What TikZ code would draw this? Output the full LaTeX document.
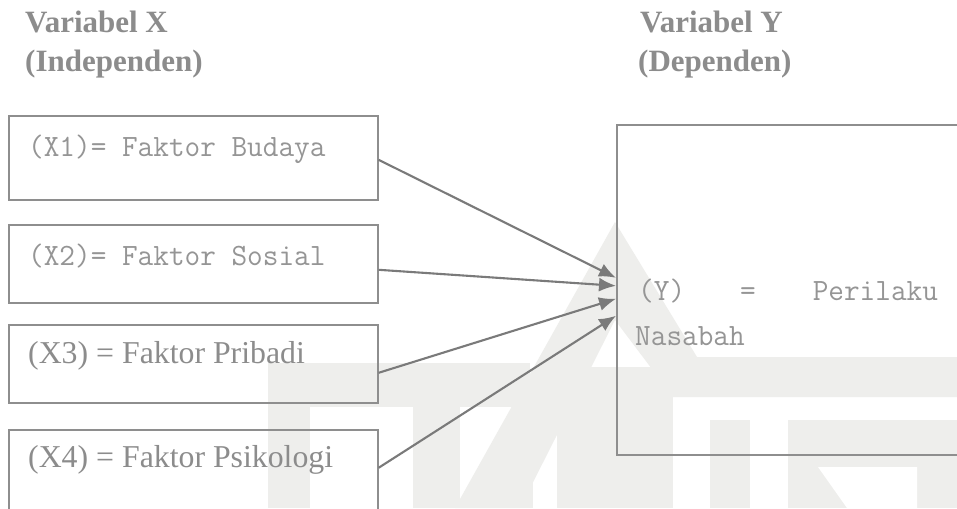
\documentclass[tikz,border=0pt]{standalone}
\usepackage{fontspec}
\setmainfont{Liberation Serif}
\newfontfamily\monofont[FakeStretch=0.98]{Latin Modern Mono}
\usetikzlibrary{arrows.meta}
\definecolor{linegray}{HTML}{8E8E8E}
\definecolor{arrgray}{HTML}{7A7A7A}
\definecolor{txtgray}{HTML}{8C8C8C}
\definecolor{montgray}{HTML}{959595}
\definecolor{wmgray}{HTML}{EEEEEC}
\tikzset{
  varbox/.style={draw=linegray,line width=1.6pt,minimum width=369pt,anchor=north west,inner sep=0pt},
  headtext/.style={anchor=base west,inner sep=0pt,text=txtgray,font=\fontsize{31}{37}\selectfont\bfseries},
  sertext/.style={anchor=base west,inner sep=0pt,text=txtgray,font=\fontsize{31.8}{37}\selectfont},
  montext/.style={anchor=base west,inner sep=0pt,text=montgray,font=\monofont\fontsize{31}{37}\selectfont},
  arr/.style={arrgray,line width=2.1pt,-{Latex[length=17pt,width=14pt]}}
}

\begin{document}
\begin{tikzpicture}[x=1pt,y=1pt]
    \clip (0,0) rectangle (957,-508);
    \fill[white] (0,0) rectangle (957,-508);
    \fill[wmgray] (455,-508)--(615,-222)--(697,-357)--(957,-357)--(957,-397)--(673,-397)--(615,-320)--(520,-508)--cycle;
    \fill[wmgray] (268,-363) rectangle (530,-407);
    \fill[wmgray] (268,-363) rectangle (310,-508);
    \fill[wmgray] (413,-407) rectangle (460,-508);
    \fill[wmgray] (493,-440) rectangle (533,-508);
    \fill[wmgray] (557,-367) rectangle (673,-508);
    \fill[wmgray] (710,-420) rectangle (750,-508);
    \fill[wmgray] (788,-420) rectangle (957,-508);
    \fill[white] (818,-467)--(917,-467)--(917,-508)--(847,-508)--cycle;
%    \fill[wmgray] (327,-370) rectangle (372,-508);

    \node[headtext] (varx) at (25,-33) {Variabel X};
    \node[headtext] (indep) at (25,-72) {(Independen)};
    \node[headtext] (vary) at (640,-33) {Variabel Y};
    \node[headtext] (dep) at (638,-72) {(Dependen)};

    \node[varbox,minimum height=84pt] (x1) at (8,-115) {};
    \node[varbox,minimum height=78pt] (x2) at (8,-224) {};
    \node[varbox,minimum height=78pt] (x3) at (8,-324) {};
    \node[varbox,minimum height=90pt] (x4) at (8,-429) {};
    \node[varbox,minimum width=400pt,minimum height=330pt] (y) at (616,-124) {};

    \node[montext] (tx1) at ([xshift=20,yshift=-41]x1.north west) {(X1)= Faktor Budaya};
    \node[montext] (tx2) at ([xshift=20,yshift=-41]x2.north west) {(X2)= Faktor Sosial};
    \node[sertext] (tx3) at ([xshift=20,yshift=-39]x3.north west) {(X3) = Faktor Pribadi};
    \node[sertext] (tx4) at ([xshift=20,yshift=-38]x4.north west) {(X4) = Faktor Psikologi};
    \node[montext] (ty1) at (638,-300) {(Y)\hspace{55pt}=\hspace{57pt}Perilaku};
    \node[montext] (ty2) at (635,-345) {Nasabah};

    \draw[arr] ([yshift=-2]x1.east) -- ([yshift=12]y.west);
    \draw[arr] ([yshift=-6]x2.east) -- ([yshift=4]y.west);
    \draw[arr] ([yshift=-9]x3.east) -- ([yshift=-9]y.west);
    \draw[arr] ([yshift=7]x4.east) -- ([yshift=-26]y.west);
  \end{tikzpicture}
\end{document}
